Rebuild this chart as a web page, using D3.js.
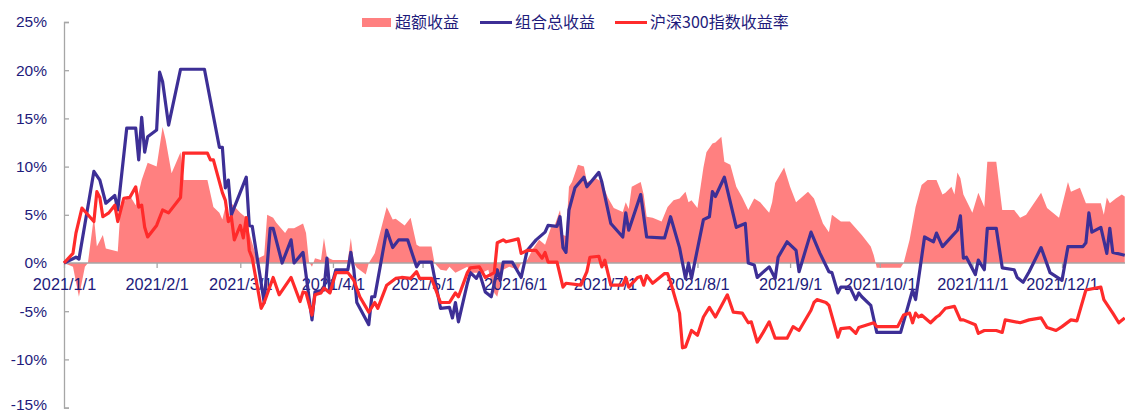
<!DOCTYPE html>
<html><head><meta charset="utf-8">
<script src="https://cdn.jsdelivr.net/npm/d3@7/dist/d3.min.js"></script>
<style>
html,body{margin:0;padding:0;background:#fff;}
svg{display:block;font-family:"Noto Sans CJK SC","Noto Sans",sans-serif;}
</style></head><body>
<svg id="chart" width="1125" height="412"></svg>
<script>
// ---- data (percent) ----
const seriesNames = ["超额收益", "组合总收益", "沪深300指数收益率"];
const yTickValues = [-15, -10, -5, 0, 5, 10, 15, 20, 25];
const xTickDates = ["1/1","2/1","3/1","4/1","5/1","6/1","7/1","8/1","9/1","10/1","11/1","12/1"];

const excessData = [["1/1",0],["1/4",-0.4],["1/6",-3.5],["1/8",-0.4],["1/9",0],["1/11",4.8],["1/12",1.7],["1/14",2.9],["1/15",1.5],["1/19",1.2],["1/20",6.0],["1/23",7.0],["1/25",6.0],["1/27",8.6],["1/29",10.4],["2/1",10.0],["2/3",14.1],["2/4",12.8],["2/6",9.3],["2/9",11.5],["2/10",8.6],["2/18",8.6],["2/20",5.8],["2/22",5.2],["2/23",4.5],["2/24",5.8],["2/25",4.1],["2/26",6.2],["3/1",5.2],["3/3",4.7],["3/4",3.1],["3/6",1.0],["3/7",0.5],["3/9",0.8],["3/10",5.0],["3/12",4.7],["3/13",4.2],["3/16",3.1],["3/17",3.6],["3/19",3.6],["3/22",4.1],["3/23",3.1],["3/24",0.1],["3/25",-0.4],["3/26",0.5],["3/28",0.3],["3/29",2.6],["3/30",0.6],["4/1",0.3],["4/6",0.3],["4/7",2.6],["4/8",0],["4/9",-0.5],["4/12",-1.2],["4/13",0],["4/15",1.0],["4/19",5.8],["4/21",4.5],["4/22",4.6],["4/25",3.9],["4/27",4.7],["4/29",1.9],["4/30",1.7],["5/4",1.7],["5/5",0],["5/7",-0.7],["5/9",-0.8],["5/10",-0.4],["5/12",-1.0],["5/14",-0.7],["5/16",-0.4],["5/17",-1.0],["5/21",-1.0],["5/23",-0.7],["5/25",-3.1],["5/26",-3.5],["5/28",-0.7],["5/30",-0.4],["6/2",-0.7],["6/3",0],["6/5",0.3],["6/7",1.5],["6/9",2.4],["6/11",1.9],["6/13",3.7],["6/14",3.7],["6/16",5.5],["6/17",2.9],["6/18",2.8],["6/19",7.9],["6/20",8.4],["6/22",10.2],["6/24",10.0],["6/25",8.4],["6/28",8.8],["6/30",8.4],["7/2",6.8],["7/4",5.7],["7/7",5.3],["7/8",6.3],["7/9",5.6],["7/10",7.9],["7/13",8.4],["7/14",7.1],["7/15",4.8],["7/17",4.7],["7/20",4.3],["7/22",5.8],["7/24",6.5],["7/26",6.7],["7/28",7.4],["7/29",6.3],["7/30",6.5],["8/1",5.7],["8/3",9.9],["8/4",11.5],["8/6",12.4],["8/7",12.5],["8/9",13.1],["8/10",10.5],["8/12",10.2],["8/14",7.9],["8/16",6.8],["8/18",5.5],["8/20",6.7],["8/22",6.3],["8/25",5.2],["8/26",6.3],["8/27",8.3],["8/30",9.9],["9/1",7.9],["9/3",6.3],["9/7",7.4],["9/9",6.7],["9/12",4.1],["9/14",3.2],["9/15",5.0],["9/18",4.3],["9/21",4.3],["9/23",3.6],["9/25",2.9],["9/28",1.7],["9/29",0.8],["9/30",-0.5],["10/8",-0.5],["10/9",0],["10/11",2.4],["10/13",5.8],["10/15",8.1],["10/17",8.6],["10/20",8.6],["10/22",7.1],["10/23",7.3],["10/25",7.9],["10/26",7.1],["10/27",9.4],["10/28",8.8],["10/29",7.1],["11/1",5.2],["11/3",7.3],["11/5",5.8],["11/6",10.5],["11/9",10.5],["11/11",5.5],["11/15",5.5],["11/17",4.7],["11/19",5.0],["11/24",7.3],["11/26",5.7],["11/30",4.7],["12/3",8.4],["12/4",7.4],["12/7",7.8],["12/9",6.2],["12/14",6.2],["12/15",5.0],["12/16",6.8],["12/17",6.2],["12/19",6.7],["12/21",7.1],["12/22",6.9]];

const portfolioData = [["1/1",0],["1/5",0.6],["1/6",0.4],["1/11",9.5],["1/13",8.6],["1/15",6.2],["1/18",7.0],["1/19",5.5],["1/22",14.0],["1/25",14.0],["1/26",10.7],["1/27",15.1],["1/28",11.5],["1/29",13.1],["2/1",13.8],["2/2",19.8],["2/3",18.8],["2/5",14.3],["2/9",20.1],["2/17",20.1],["2/22",12.0],["2/23",12.0],["2/24",7.8],["2/25",8.6],["2/26",5.0],["3/3",8.9],["3/4",3.9],["3/5",3.8],["3/9",-4.1],["3/11",3.6],["3/12",3.6],["3/15",0.0],["3/18",2.4],["3/19",0],["3/22",1.1],["3/25",-5.9],["3/26",-3.0],["3/29",-2.8],["3/30",0.5],["3/31",-3.0],["4/2",-0.7],["4/6",-0.7],["4/7",1.1],["4/8",-0.7],["4/9",-4.1],["4/13",-6.4],["4/14",-3.5],["4/15",-3.5],["4/19",3.4],["4/21",1.6],["4/23",2.4],["4/26",2.4],["4/29",-0.4],["4/30",0.1],["5/4",0.1],["5/7",-4.7],["5/10",-4.6],["5/11",-5.7],["5/12",-4.1],["5/13",-6.1],["5/16",-2.1],["5/17",-1.0],["5/19",-1.6],["5/20",-1.0],["5/22",-3.0],["5/24",-3.5],["5/26",-0.7],["5/27",-1.8],["5/28",0.1],["5/31",0.1],["6/3",-1.5],["6/5",1.3],["6/8",2.4],["6/11",3.2],["6/12",3.9],["6/15",3.8],["6/16",4.8],["6/17",1.6],["6/18",1.1],["6/19",5.5],["6/21",7.8],["6/24",8.9],["6/25",7.9],["6/29",9.4],["6/30",8.4],["7/3",4.1],["7/7",2.7],["7/8",5.2],["7/9",3.4],["7/13",7.1],["7/15",2.7],["7/20",2.6],["7/21",2.6],["7/23",4.8],["7/26",1.6],["7/28",-1.6],["7/29",0],["7/30",-1.6],["8/3",4.5],["8/5",4.8],["8/6",7.4],["8/7",6.9],["8/10",8.9],["8/14",3.7],["8/17",4.1],["8/18",0],["8/20",-0.2],["8/21",-1.5],["8/25",-0.4],["8/27",-1.6],["8/28",0.6],["8/31",2.2],["9/3",1.3],["9/4",-0.9],["9/8",3.2],["9/11",1.0],["9/14",-0.9],["9/15",-1.0],["9/17",-3.1],["9/18",-2.5],["9/21",-2.5],["9/23",-3.8],["9/24",-3.1],["9/25",-3.5],["9/28",-4.4],["9/30",-7.2],["10/8",-7.2],["10/12",-2.8],["10/13",-3.8],["10/16",2.7],["10/19",2.2],["10/20",3.1],["10/22",1.7],["10/27",3.4],["10/28",4.9],["10/29",0.5],["10/30",0.6],["11/2",-1.2],["11/3",0.3],["11/5",-0.7],["11/6",3.6],["11/9",3.6],["11/11",-0.5],["11/15",-0.7],["11/16",-1.5],["11/18",-2.0],["11/20",-0.9],["11/24",1.6],["11/27",-1.0],["12/1",-1.8],["12/3",1.7],["12/8",1.7],["12/9",2.1],["12/10",5.2],["12/11",3.2],["12/14",3.7],["12/16",1.0],["12/17",3.6],["12/18",1.1],["12/22",0.8]];

const hs300Data = [["1/1",0],["1/4",1.0],["1/5",3.1],["1/7",5.7],["1/11",4.3],["1/12",7.4],["1/13",6.8],["1/14",4.8],["1/16",5.2],["1/18",6.0],["1/19",4.3],["1/21",6.7],["1/23",6.8],["1/25",7.9],["1/26",5.8],["1/27",6.0],["1/28",3.7],["1/29",2.7],["2/1",3.9],["2/3",5.5],["2/5",5.2],["2/9",6.8],["2/10",11.4],["2/18",11.4],["2/19",10.7],["2/20",10.7],["2/23",7.3],["2/24",6.5],["2/25",4.3],["2/26",4.8],["2/27",2.4],["3/1",3.9],["3/2",2.6],["3/3",4.7],["3/4",1.3],["3/5",0.5],["3/8",-4.7],["3/9",-4.1],["3/12",-1.5],["3/14",-3.3],["3/18",-1.5],["3/21",-4.0],["3/22",-3.0],["3/23",-3.1],["3/25",-5.4],["3/26",-3.3],["3/28",-3.1],["3/29",-2.6],["3/31",-3.1],["4/2",-1.0],["4/6",-1.0],["4/8",-1.8],["4/10",-3.5],["4/13",-5.1],["4/15",-4.1],["4/16",-4.7],["4/19",-2.3],["4/22",-1.6],["4/24",-1.5],["4/27",-1.6],["4/29",-0.9],["4/30",-1.6],["5/4",-1.6],["5/7",-4.1],["5/10",-4.1],["5/11",-3.6],["5/12",-3.1],["5/13",-3.5],["5/16",-1.0],["5/17",-0.5],["5/20",-0.4],["5/22",-1.5],["5/25",-1.0],["5/26",2.1],["5/28",2.4],["5/29",2.2],["6/2",2.5],["6/3",1.0],["6/5",1.3],["6/8",1.3],["6/10",0.5],["6/11",1.1],["6/12",0.1],["6/15",0.1],["6/17",-2.5],["6/18",-2.1],["6/23",-2.3],["6/25",-0.9],["6/26",0.6],["6/29",0.7],["6/30",-0.4],["7/1",0.3],["7/3",-2.3],["7/7",-2.3],["7/8",-1.5],["7/9",-2.5],["7/12",-1.5],["7/13",-1.4],["7/14",-2.3],["7/15",-1.3],["7/17",-2.1],["7/21",-1.1],["7/22",-1.1],["7/23",-2.0],["7/26",-5.2],["7/27",-8.8],["7/28",-8.7],["7/30",-7.0],["8/1",-7.5],["8/3",-5.6],["8/4",-5.1],["8/5",-4.6],["8/7",-5.6],["8/11",-3.3],["8/13",-5.1],["8/16",-5.2],["8/18",-6.2],["8/19",-6.1],["8/21",-8.2],["8/23",-7.2],["8/25",-6.1],["8/27",-7.8],["8/31",-7.8],["9/2",-6.6],["9/4",-7.0],["9/8",-4.9],["9/9",-4.1],["9/10",-3.8],["9/13",-4.1],["9/14",-4.4],["9/17",-7.7],["9/18",-6.8],["9/21",-6.7],["9/23",-7.3],["9/24",-6.7],["9/29",-6.2],["9/30",-6.6],["10/7",-6.6],["10/9",-5.4],["10/11",-5.2],["10/12",-6.2],["10/13",-5.2],["10/14",-5.6],["10/15",-5.4],["10/18",-6.2],["10/20",-5.6],["10/21",-5.4],["10/23",-4.7],["10/26",-4.5],["10/28",-5.9],["10/29",-5.9],["11/2",-6.4],["11/3",-7.3],["11/5",-7.0],["11/9",-7.0],["11/11",-7.2],["11/12",-5.9],["11/17",-6.2],["11/20",-5.9],["11/24",-5.7],["11/26",-6.7],["11/29",-7.0],["12/1",-6.6],["12/4",-5.9],["12/6",-6.0],["12/9",-2.8],["12/14",-2.5],["12/15",-3.8],["12/18",-5.2],["12/20",-6.2],["12/22",-5.7]];

// ---- setup ----
const parse = s => d3.timeParse("%Y/%m/%d")("2021/" + s);
const toPts = arr => arr.map(([d, v]) => ({date: parse(d), v}));

const svg = d3.select("#chart");
const x = d3.scaleTime().domain([parse("1/1"), parse("12/1")]).range([64, 1062]);
const y = d3.scaleLinear().domain([-15, 25]).range([407.6, 22]);

const textColor = "#1e1b7b";
const axisColor = "#a6a6a6";
const colors = {excess: "#ff8080", port: "#3d2f96", hs: "#ff2b2b"};

// excess area
const area = d3.area().x(d => x(d.date)).y0(y(0)).y1(d => y(d.v));
svg.append("path").datum(toPts(excessData)).attr("d", area).attr("fill", colors.excess);

// y axis
const yAxis = svg.append("g").attr("transform", "translate(64,0)")
  .call(d3.axisRight(y).tickValues(yTickValues).tickSize(5).tickFormat(d => d + "%"));
yAxis.select(".domain").attr("stroke", axisColor).attr("stroke-width", 1.3);
yAxis.selectAll(".tick line").attr("stroke", axisColor).attr("stroke-width", 1.3);
yAxis.selectAll(".tick text").attr("x", -17).attr("text-anchor", "end")
  .attr("fill", textColor).attr("font-size", 15.5)
  .attr("dy", d => d === -15 ? "0.1em" : "0.32em");

// x axis at 0
const xAxis = svg.append("g").attr("transform", `translate(0,${y(0)})`)
  .call(d3.axisBottom(x).tickValues(xTickDates.map(parse)).tickSize(5)
    .tickFormat(d3.timeFormat("%Y/%-m/%-d")));
xAxis.select(".domain").attr("stroke", axisColor).attr("stroke-width", 1.3)
  .attr("d", `M64,0H1125`);
xAxis.selectAll(".tick line").attr("stroke", axisColor).attr("stroke-width", 1.3);
xAxis.selectAll(".tick text").attr("y", 15).attr("fill", textColor).attr("font-size", 16.3);

// lines
const line = d3.line().x(d => x(d.date)).y(d => y(d.v));
svg.append("path").datum(toPts(portfolioData)).attr("d", line)
  .attr("fill", "none").attr("stroke", colors.port).attr("stroke-width", 3.2).attr("stroke-linejoin", "round");
svg.append("path").datum(toPts(hs300Data)).attr("d", line)
  .attr("fill", "none").attr("stroke", colors.hs).attr("stroke-width", 3.2).attr("stroke-linejoin", "round");

// legend
const leg = svg.append("g").attr("font-size", 16).attr("fill", textColor);
leg.append("rect").attr("x", 362).attr("y", 18).attr("width", 29).attr("height", 9).attr("fill", colors.excess);
leg.append("text").attr("x", 395).attr("y", 28).text(seriesNames[0]).attr("fill", textColor);
leg.append("line").attr("x1", 480).attr("x2", 512).attr("y1", 22.5).attr("y2", 22.5).attr("stroke", colors.port).attr("stroke-width", 3);
leg.append("text").attr("x", 515).attr("y", 28).text(seriesNames[1]).attr("fill", textColor);
leg.append("line").attr("x1", 615).attr("x2", 647).attr("y1", 22.5).attr("y2", 22.5).attr("stroke", colors.hs).attr("stroke-width", 3);
leg.append("text").attr("x", 650).attr("y", 28).text(seriesNames[2]).attr("fill", textColor);
</script>
</body></html>
